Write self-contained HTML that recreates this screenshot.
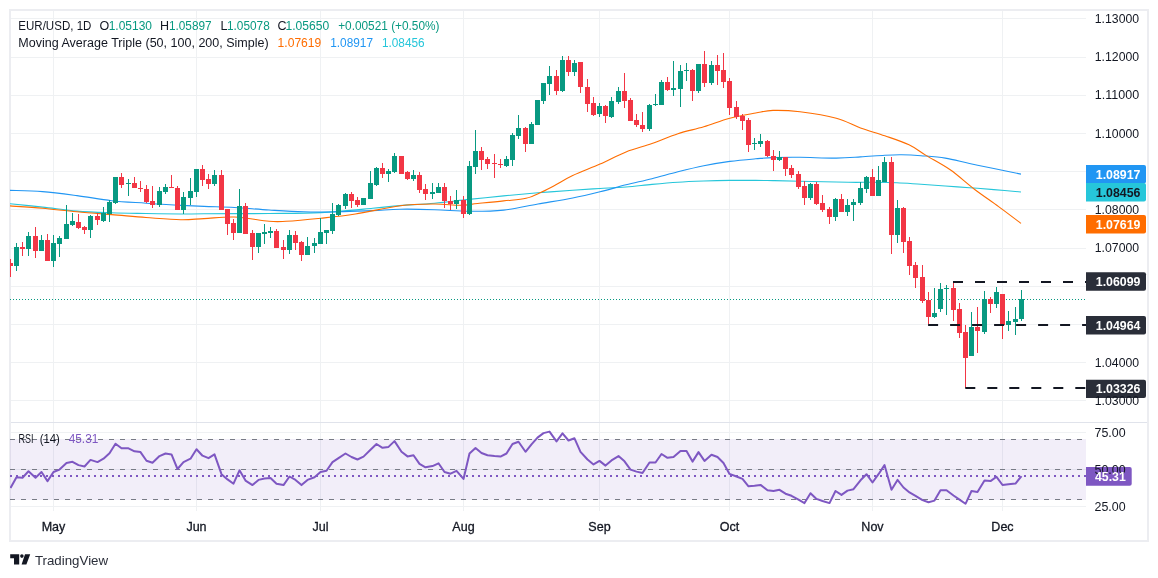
<!DOCTYPE html>
<html><head><meta charset="utf-8"><title>EUR/USD Chart</title>
<style>html,body{margin:0;padding:0;background:#fff;width:1158px;height:578px;overflow:hidden;}text{font-family:"Liberation Sans", sans-serif;}</style>
</head><body>
<svg width="1158" height="578" viewBox="0 0 1158 578" style="display:block;font-family:'Liberation Sans', sans-serif"><defs><clipPath id="mainclip"><rect x="10" y="11" width="1076" height="411"/></clipPath><clipPath id="rsiclip"><rect x="10" y="423" width="1076" height="88"/></clipPath></defs><rect width="1158" height="578" fill="#FFFFFF"/><rect x="10" y="10" width="1138" height="531" fill="none" stroke="#ECEDF1" stroke-width="2"/>
<line x1="11" y1="18.5" x2="1086" y2="18.5" stroke="#EFF1F3" stroke-width="1"/>
<line x1="11" y1="57.5" x2="1086" y2="57.5" stroke="#EFF1F3" stroke-width="1"/>
<line x1="11" y1="95.5" x2="1086" y2="95.5" stroke="#EFF1F3" stroke-width="1"/>
<line x1="11" y1="133.5" x2="1086" y2="133.5" stroke="#EFF1F3" stroke-width="1"/>
<line x1="11" y1="171.5" x2="1086" y2="171.5" stroke="#EFF1F3" stroke-width="1"/>
<line x1="11" y1="209.5" x2="1086" y2="209.5" stroke="#EFF1F3" stroke-width="1"/>
<line x1="11" y1="248.5" x2="1086" y2="248.5" stroke="#EFF1F3" stroke-width="1"/>
<line x1="11" y1="286.5" x2="1086" y2="286.5" stroke="#EFF1F3" stroke-width="1"/>
<line x1="11" y1="324.5" x2="1086" y2="324.5" stroke="#EFF1F3" stroke-width="1"/>
<line x1="11" y1="362.5" x2="1086" y2="362.5" stroke="#EFF1F3" stroke-width="1"/>
<line x1="11" y1="400.5" x2="1086" y2="400.5" stroke="#EFF1F3" stroke-width="1"/>
<line x1="53.5" y1="11" x2="53.5" y2="511" stroke="#EFF1F3" stroke-width="1"/>
<line x1="196.5" y1="11" x2="196.5" y2="511" stroke="#EFF1F3" stroke-width="1"/>
<line x1="320.5" y1="11" x2="320.5" y2="511" stroke="#EFF1F3" stroke-width="1"/>
<line x1="463.5" y1="11" x2="463.5" y2="511" stroke="#EFF1F3" stroke-width="1"/>
<line x1="599.5" y1="11" x2="599.5" y2="511" stroke="#EFF1F3" stroke-width="1"/>
<line x1="729.5" y1="11" x2="729.5" y2="511" stroke="#EFF1F3" stroke-width="1"/>
<line x1="872.5" y1="11" x2="872.5" y2="511" stroke="#EFF1F3" stroke-width="1"/>
<line x1="1002.5" y1="11" x2="1002.5" y2="511" stroke="#EFF1F3" stroke-width="1"/>
<line x1="11" y1="432.5" x2="1086" y2="432.5" stroke="#EFF1F3" stroke-width="1"/>
<line x1="11" y1="469.5" x2="1086" y2="469.5" stroke="#EFF1F3" stroke-width="1"/>
<line x1="11" y1="506.5" x2="1086" y2="506.5" stroke="#EFF1F3" stroke-width="1"/>
<line x1="11" y1="422.5" x2="1147" y2="422.5" stroke="#E0E3EB" stroke-width="1"/>
<line x1="10" y1="299.5" x2="1086" y2="299.5" stroke="#089981" stroke-width="1" stroke-dasharray="1 2"/>
<g clip-path="url(#mainclip)">
<path d="M10.0,203.7 C15.4,204.3 31.3,205.9 42.5,207.1 C53.7,208.3 65.5,210.1 77.0,211.1 C88.5,212.1 100.1,212.4 111.6,212.8 C123.1,213.2 134.5,213.3 146.0,213.5 C157.5,213.7 171.0,213.9 180.7,214.0 C190.4,214.1 189.3,213.9 204.0,213.8 C218.7,213.7 249.5,213.7 269.0,213.5 C288.5,213.3 303.7,213.5 321.0,212.6 C338.3,211.7 359.5,209.5 372.7,208.3 C385.9,207.1 389.7,206.4 400.0,205.6 C410.3,204.8 423.0,204.2 434.5,203.2 C446.0,202.2 457.5,200.6 469.0,199.4 C480.5,198.2 492.1,197.0 503.6,195.9 C515.1,194.8 526.5,193.8 538.0,192.8 C549.5,191.9 562.4,190.9 572.7,190.2 C583.0,189.5 591.1,189.0 600.0,188.5 C608.9,188.0 617.3,187.7 626.0,187.0 C634.7,186.3 643.4,185.2 652.0,184.4 C660.6,183.6 669.3,182.8 677.9,182.2 C686.5,181.6 695.1,181.3 703.8,181.0 C712.4,180.7 721.1,180.5 729.8,180.4 C738.4,180.3 748.5,180.4 755.7,180.4 C762.9,180.4 765.6,180.5 773.0,180.6 C780.4,180.7 787.4,180.9 800.0,181.2 C812.6,181.5 836.3,182.1 848.4,182.3 C860.5,182.5 864.6,182.2 872.7,182.3 C880.8,182.4 888.9,182.5 896.9,182.8 C904.9,183.1 912.9,183.8 921.0,184.3 C929.1,184.8 937.2,185.4 945.3,186.0 C953.4,186.6 961.4,187.1 969.5,187.7 C977.6,188.3 985.2,188.9 993.8,189.6 C1002.4,190.3 1016.5,191.6 1021.0,192.0" fill="none" stroke="#26C6DA" stroke-width="1.1" stroke-linejoin="round"/>
<path d="M10.0,190.4 C15.4,190.6 31.3,190.7 42.5,191.6 C53.7,192.5 65.5,194.1 77.0,195.6 C88.5,197.1 100.1,199.4 111.6,200.7 C123.1,202.0 134.5,202.4 146.0,203.2 C157.5,204.0 171.0,204.9 180.7,205.4 C190.4,205.9 195.0,206.1 204.0,206.4 C213.0,206.8 223.7,206.9 234.5,207.5 C245.3,208.1 257.5,209.3 269.0,210.0 C280.5,210.7 292.1,211.5 303.6,211.8 C315.1,212.1 326.5,212.0 338.0,211.8 C349.5,211.6 362.4,211.0 372.7,210.6 C383.0,210.2 389.7,209.3 400.0,209.2 C410.3,209.0 423.0,209.3 434.5,209.7 C446.0,210.0 457.5,211.2 469.0,211.3 C480.5,211.4 492.1,211.3 503.6,210.1 C515.1,208.9 526.5,206.0 538.0,204.0 C549.5,202.0 562.4,200.0 572.7,198.0 C583.0,196.0 591.1,194.0 600.0,191.8 C608.9,189.6 617.3,187.0 626.0,184.8 C634.7,182.6 643.4,180.9 652.0,178.7 C660.6,176.5 669.3,174.0 677.9,171.8 C686.5,169.6 695.1,167.4 703.8,165.7 C712.4,164.0 721.1,162.6 729.8,161.4 C738.4,160.2 748.5,159.4 755.7,158.8 C762.9,158.2 765.6,157.8 773.0,157.6 C780.4,157.3 789.5,157.2 800.0,157.3 C810.5,157.4 826.2,158.2 836.3,158.1 C846.4,158.0 852.4,157.4 860.5,156.9 C868.6,156.4 877.9,155.6 884.8,155.2 C891.7,154.8 895.7,154.6 901.7,154.7 C907.7,154.8 913.7,155.1 921.0,155.7 C928.3,156.3 937.2,156.8 945.3,158.1 C953.4,159.4 961.4,161.8 969.5,163.5 C977.6,165.2 985.2,166.7 993.8,168.5 C1002.4,170.3 1016.5,173.2 1021.0,174.1" fill="none" stroke="#2196F3" stroke-width="1.1" stroke-linejoin="round"/>
<path d="M10.0,205.9 C15.4,206.3 31.3,207.3 42.5,208.3 C53.7,209.3 65.5,210.8 77.0,211.8 C88.5,212.9 100.1,213.7 111.6,214.6 C123.1,215.5 134.5,216.7 146.0,217.5 C157.5,218.3 171.0,219.5 180.7,219.7 C190.4,219.9 195.0,219.0 204.0,218.6 C213.0,218.2 223.7,216.6 234.5,217.0 C245.3,217.4 260.4,220.6 269.0,221.3 C277.6,222.0 277.3,221.8 286.0,221.3 C294.7,220.8 309.4,219.4 321.0,218.2 C332.6,217.0 342.2,216.1 355.4,214.0 C368.6,211.9 386.8,207.5 400.0,205.8 C413.2,204.1 424.4,204.1 434.5,204.0 C444.6,203.9 453.2,205.4 460.4,205.3 C467.6,205.2 470.5,204.2 477.7,203.5 C484.9,202.8 495.6,201.8 503.6,200.9 C511.7,200.0 519.7,199.8 526.0,198.3 C532.3,196.8 536.7,194.2 541.6,192.0 C546.5,189.8 550.2,187.8 555.4,185.0 C560.6,182.2 565.3,179.0 572.7,175.5 C580.1,172.0 591.1,168.0 600.0,164.1 C608.9,160.2 617.3,155.3 626.0,151.9 C634.7,148.5 643.4,146.6 652.0,143.6 C660.6,140.6 669.3,136.5 677.9,133.7 C686.5,130.9 695.1,129.4 703.8,126.8 C712.4,124.2 721.1,120.5 729.8,118.2 C738.4,115.9 748.5,114.3 755.7,113.0 C762.9,111.7 765.6,110.6 773.0,110.4 C780.4,110.2 789.5,110.5 800.0,111.8 C810.5,113.1 826.2,115.5 836.3,118.2 C846.4,120.9 852.4,125.0 860.5,127.9 C868.6,130.8 876.7,133.0 884.8,135.8 C892.9,138.6 902.1,141.5 909.0,144.8 C915.9,148.1 919.1,151.2 926.0,155.4 C932.9,159.6 942.1,164.2 950.2,169.8 C958.3,175.4 966.3,183.1 974.4,189.2 C982.5,195.3 990.8,200.9 998.6,206.6 C1006.4,212.3 1017.3,220.6 1021.0,223.4" fill="none" stroke="#FF6D00" stroke-width="1.1" stroke-linejoin="round"/>
</g>
<g shape-rendering="crispEdges" clip-path="url(#mainclip)"><rect x="10" y="259" width="1" height="18" fill="#F23645"/><rect x="8" y="263" width="5" height="3" fill="#F23645"/><rect x="16" y="243" width="1" height="28" fill="#089981"/><rect x="14" y="247" width="5" height="19" fill="#089981"/><rect x="22" y="242" width="1" height="14" fill="#F23645"/><rect x="20" y="247" width="5" height="2" fill="#F23645"/><rect x="28" y="232" width="1" height="24" fill="#089981"/><rect x="26" y="236" width="5" height="13" fill="#089981"/><rect x="35" y="227" width="1" height="31" fill="#F23645"/><rect x="33" y="236" width="5" height="15" fill="#F23645"/><rect x="41" y="235" width="1" height="16" fill="#089981"/><rect x="39" y="240" width="5" height="11" fill="#089981"/><rect x="47" y="234" width="1" height="27" fill="#F23645"/><rect x="45" y="240" width="5" height="21" fill="#F23645"/><rect x="53" y="235" width="1" height="32" fill="#089981"/><rect x="51" y="243" width="5" height="18" fill="#089981"/><rect x="59" y="236" width="1" height="21" fill="#089981"/><rect x="57" y="238" width="5" height="6" fill="#089981"/><rect x="66" y="205" width="1" height="34" fill="#089981"/><rect x="64" y="224" width="5" height="15" fill="#089981"/><rect x="72" y="213" width="1" height="13" fill="#089981"/><rect x="70" y="221" width="5" height="4" fill="#089981"/><rect x="78" y="214" width="1" height="15" fill="#F23645"/><rect x="76" y="222" width="5" height="6" fill="#F23645"/><rect x="84" y="226" width="1" height="8" fill="#F23645"/><rect x="82" y="227" width="5" height="3" fill="#F23645"/><rect x="90" y="215" width="1" height="23" fill="#089981"/><rect x="88" y="216" width="5" height="14" fill="#089981"/><rect x="97" y="213" width="1" height="12" fill="#F23645"/><rect x="95" y="216" width="5" height="4" fill="#F23645"/><rect x="103" y="207" width="1" height="15" fill="#089981"/><rect x="101" y="213" width="5" height="8" fill="#089981"/><rect x="109" y="200" width="1" height="22" fill="#089981"/><rect x="107" y="202" width="5" height="12" fill="#089981"/><rect x="115" y="177" width="1" height="27" fill="#089981"/><rect x="113" y="177" width="5" height="26" fill="#089981"/><rect x="121" y="173" width="1" height="15" fill="#F23645"/><rect x="119" y="177" width="5" height="8" fill="#F23645"/><rect x="128" y="179" width="1" height="17" fill="#089981"/><rect x="126" y="183" width="5" height="1" fill="#089981"/><rect x="134" y="177" width="1" height="11" fill="#F23645"/><rect x="132" y="183" width="5" height="5" fill="#F23645"/><rect x="140" y="181" width="1" height="11" fill="#F23645"/><rect x="138" y="188" width="5" height="1" fill="#F23645"/><rect x="146" y="185" width="1" height="18" fill="#F23645"/><rect x="144" y="189" width="5" height="13" fill="#F23645"/><rect x="152" y="186" width="1" height="22" fill="#F23645"/><rect x="150" y="201" width="5" height="4" fill="#F23645"/><rect x="159" y="187" width="1" height="20" fill="#089981"/><rect x="157" y="191" width="5" height="14" fill="#089981"/><rect x="165" y="184" width="1" height="10" fill="#089981"/><rect x="163" y="187" width="5" height="5" fill="#089981"/><rect x="171" y="175" width="1" height="13" fill="#F23645"/><rect x="169" y="187" width="5" height="1" fill="#F23645"/><rect x="177" y="186" width="1" height="24" fill="#F23645"/><rect x="175" y="188" width="5" height="22" fill="#F23645"/><rect x="183" y="192" width="1" height="22" fill="#089981"/><rect x="181" y="197" width="5" height="13" fill="#089981"/><rect x="190" y="178" width="1" height="27" fill="#089981"/><rect x="188" y="191" width="5" height="7" fill="#089981"/><rect x="196" y="169" width="1" height="28" fill="#089981"/><rect x="194" y="169" width="5" height="23" fill="#089981"/><rect x="202" y="165" width="1" height="21" fill="#F23645"/><rect x="200" y="169" width="5" height="11" fill="#F23645"/><rect x="208" y="174" width="1" height="15" fill="#F23645"/><rect x="206" y="179" width="5" height="5" fill="#F23645"/><rect x="214" y="170" width="1" height="16" fill="#089981"/><rect x="212" y="175" width="5" height="9" fill="#089981"/><rect x="221" y="170" width="1" height="40" fill="#F23645"/><rect x="219" y="175" width="5" height="35" fill="#F23645"/><rect x="227" y="209" width="1" height="26" fill="#F23645"/><rect x="225" y="209" width="5" height="15" fill="#F23645"/><rect x="233" y="219" width="1" height="21" fill="#F23645"/><rect x="231" y="223" width="5" height="10" fill="#F23645"/><rect x="239" y="189" width="1" height="44" fill="#089981"/><rect x="237" y="206" width="5" height="27" fill="#089981"/><rect x="245" y="203" width="1" height="31" fill="#F23645"/><rect x="243" y="206" width="5" height="28" fill="#F23645"/><rect x="252" y="230" width="1" height="30" fill="#F23645"/><rect x="250" y="233" width="5" height="14" fill="#F23645"/><rect x="258" y="233" width="1" height="20" fill="#089981"/><rect x="256" y="233" width="5" height="14" fill="#089981"/><rect x="264" y="224" width="1" height="20" fill="#089981"/><rect x="262" y="232" width="5" height="2" fill="#089981"/><rect x="270" y="227" width="1" height="11" fill="#089981"/><rect x="268" y="231" width="5" height="2" fill="#089981"/><rect x="276" y="229" width="1" height="19" fill="#F23645"/><rect x="274" y="231" width="5" height="17" fill="#F23645"/><rect x="283" y="240" width="1" height="19" fill="#F23645"/><rect x="281" y="247" width="5" height="3" fill="#F23645"/><rect x="289" y="230" width="1" height="24" fill="#089981"/><rect x="287" y="235" width="5" height="15" fill="#089981"/><rect x="295" y="231" width="1" height="19" fill="#F23645"/><rect x="293" y="235" width="5" height="8" fill="#F23645"/><rect x="301" y="241" width="1" height="20" fill="#F23645"/><rect x="299" y="242" width="5" height="13" fill="#F23645"/><rect x="307" y="237" width="1" height="18" fill="#089981"/><rect x="305" y="246" width="5" height="9" fill="#089981"/><rect x="314" y="238" width="1" height="15" fill="#089981"/><rect x="312" y="243" width="5" height="3" fill="#089981"/><rect x="320" y="218" width="1" height="26" fill="#089981"/><rect x="318" y="232" width="5" height="12" fill="#089981"/><rect x="326" y="230" width="1" height="14" fill="#089981"/><rect x="324" y="230" width="5" height="3" fill="#089981"/><rect x="332" y="203" width="1" height="31" fill="#089981"/><rect x="330" y="214" width="5" height="17" fill="#089981"/><rect x="338" y="204" width="1" height="12" fill="#089981"/><rect x="336" y="205" width="5" height="10" fill="#089981"/><rect x="345" y="193" width="1" height="16" fill="#089981"/><rect x="343" y="194" width="5" height="12" fill="#089981"/><rect x="351" y="192" width="1" height="16" fill="#F23645"/><rect x="349" y="194" width="5" height="7" fill="#F23645"/><rect x="357" y="197" width="1" height="10" fill="#F23645"/><rect x="355" y="200" width="5" height="5" fill="#F23645"/><rect x="363" y="198" width="1" height="7" fill="#089981"/><rect x="361" y="198" width="5" height="7" fill="#089981"/><rect x="370" y="171" width="1" height="28" fill="#089981"/><rect x="368" y="183" width="5" height="16" fill="#089981"/><rect x="376" y="167" width="1" height="19" fill="#089981"/><rect x="374" y="168" width="5" height="17" fill="#089981"/><rect x="382" y="163" width="1" height="15" fill="#F23645"/><rect x="380" y="168" width="5" height="6" fill="#F23645"/><rect x="388" y="169" width="1" height="13" fill="#089981"/><rect x="386" y="171" width="5" height="3" fill="#089981"/><rect x="394" y="153" width="1" height="20" fill="#089981"/><rect x="392" y="156" width="5" height="16" fill="#089981"/><rect x="401" y="156" width="1" height="18" fill="#F23645"/><rect x="399" y="156" width="5" height="18" fill="#F23645"/><rect x="407" y="171" width="1" height="9" fill="#F23645"/><rect x="405" y="172" width="5" height="7" fill="#F23645"/><rect x="413" y="170" width="1" height="11" fill="#089981"/><rect x="411" y="175" width="5" height="4" fill="#089981"/><rect x="419" y="172" width="1" height="21" fill="#F23645"/><rect x="417" y="175" width="5" height="15" fill="#F23645"/><rect x="425" y="184" width="1" height="16" fill="#F23645"/><rect x="423" y="189" width="5" height="5" fill="#F23645"/><rect x="432" y="183" width="1" height="16" fill="#089981"/><rect x="430" y="192" width="5" height="2" fill="#089981"/><rect x="438" y="183" width="1" height="10" fill="#089981"/><rect x="436" y="187" width="5" height="6" fill="#089981"/><rect x="444" y="183" width="1" height="25" fill="#F23645"/><rect x="442" y="187" width="5" height="14" fill="#F23645"/><rect x="450" y="196" width="1" height="14" fill="#F23645"/><rect x="448" y="201" width="5" height="3" fill="#F23645"/><rect x="456" y="190" width="1" height="19" fill="#089981"/><rect x="454" y="200" width="5" height="4" fill="#089981"/><rect x="463" y="196" width="1" height="22" fill="#F23645"/><rect x="461" y="200" width="5" height="14" fill="#F23645"/><rect x="469" y="161" width="1" height="54" fill="#089981"/><rect x="467" y="166" width="5" height="48" fill="#089981"/><rect x="475" y="130" width="1" height="44" fill="#089981"/><rect x="473" y="151" width="5" height="16" fill="#089981"/><rect x="481" y="147" width="1" height="23" fill="#F23645"/><rect x="479" y="151" width="5" height="9" fill="#F23645"/><rect x="487" y="157" width="1" height="12" fill="#F23645"/><rect x="485" y="159" width="5" height="5" fill="#F23645"/><rect x="494" y="154" width="1" height="24" fill="#F23645"/><rect x="492" y="163" width="5" height="1" fill="#F23645"/><rect x="500" y="159" width="1" height="9" fill="#F23645"/><rect x="498" y="164" width="5" height="1" fill="#F23645"/><rect x="506" y="156" width="1" height="11" fill="#089981"/><rect x="504" y="159" width="5" height="7" fill="#089981"/><rect x="512" y="133" width="1" height="33" fill="#089981"/><rect x="510" y="135" width="5" height="25" fill="#089981"/><rect x="518" y="115" width="1" height="24" fill="#089981"/><rect x="516" y="128" width="5" height="8" fill="#089981"/><rect x="525" y="127" width="1" height="25" fill="#F23645"/><rect x="523" y="128" width="5" height="16" fill="#F23645"/><rect x="531" y="122" width="1" height="22" fill="#089981"/><rect x="529" y="124" width="5" height="20" fill="#089981"/><rect x="537" y="100" width="1" height="25" fill="#089981"/><rect x="535" y="100" width="5" height="25" fill="#089981"/><rect x="543" y="83" width="1" height="21" fill="#089981"/><rect x="541" y="83" width="5" height="18" fill="#089981"/><rect x="549" y="66" width="1" height="29" fill="#089981"/><rect x="547" y="76" width="5" height="8" fill="#089981"/><rect x="556" y="70" width="1" height="25" fill="#F23645"/><rect x="554" y="76" width="5" height="15" fill="#F23645"/><rect x="562" y="56" width="1" height="36" fill="#089981"/><rect x="560" y="60" width="5" height="31" fill="#089981"/><rect x="568" y="56" width="1" height="20" fill="#F23645"/><rect x="566" y="60" width="5" height="12" fill="#F23645"/><rect x="574" y="60" width="1" height="16" fill="#089981"/><rect x="572" y="63" width="5" height="9" fill="#089981"/><rect x="580" y="62" width="1" height="31" fill="#F23645"/><rect x="578" y="62" width="5" height="25" fill="#F23645"/><rect x="587" y="79" width="1" height="33" fill="#F23645"/><rect x="585" y="87" width="5" height="17" fill="#F23645"/><rect x="593" y="97" width="1" height="19" fill="#F23645"/><rect x="591" y="103" width="5" height="12" fill="#F23645"/><rect x="599" y="103" width="1" height="14" fill="#089981"/><rect x="597" y="106" width="5" height="8" fill="#089981"/><rect x="605" y="105" width="1" height="18" fill="#F23645"/><rect x="603" y="106" width="5" height="10" fill="#F23645"/><rect x="611" y="97" width="1" height="21" fill="#089981"/><rect x="609" y="101" width="5" height="16" fill="#089981"/><rect x="618" y="87" width="1" height="17" fill="#089981"/><rect x="616" y="91" width="5" height="11" fill="#089981"/><rect x="624" y="73" width="1" height="35" fill="#F23645"/><rect x="622" y="91" width="5" height="10" fill="#F23645"/><rect x="630" y="98" width="1" height="23" fill="#F23645"/><rect x="628" y="100" width="5" height="21" fill="#F23645"/><rect x="636" y="114" width="1" height="13" fill="#F23645"/><rect x="634" y="120" width="5" height="5" fill="#F23645"/><rect x="642" y="112" width="1" height="20" fill="#F23645"/><rect x="640" y="125" width="5" height="4" fill="#F23645"/><rect x="649" y="104" width="1" height="27" fill="#089981"/><rect x="647" y="105" width="5" height="24" fill="#089981"/><rect x="655" y="94" width="1" height="12" fill="#089981"/><rect x="653" y="104" width="5" height="1" fill="#089981"/><rect x="661" y="80" width="1" height="25" fill="#089981"/><rect x="659" y="82" width="5" height="23" fill="#089981"/><rect x="667" y="77" width="1" height="14" fill="#F23645"/><rect x="665" y="82" width="5" height="8" fill="#F23645"/><rect x="673" y="61" width="1" height="35" fill="#089981"/><rect x="671" y="88" width="5" height="2" fill="#089981"/><rect x="680" y="65" width="1" height="42" fill="#089981"/><rect x="678" y="71" width="5" height="18" fill="#089981"/><rect x="686" y="63" width="1" height="18" fill="#089981"/><rect x="684" y="70" width="5" height="1" fill="#089981"/><rect x="692" y="69" width="1" height="32" fill="#F23645"/><rect x="690" y="70" width="5" height="21" fill="#F23645"/><rect x="698" y="64" width="1" height="29" fill="#089981"/><rect x="696" y="64" width="5" height="27" fill="#089981"/><rect x="704" y="51" width="1" height="36" fill="#F23645"/><rect x="702" y="64" width="5" height="19" fill="#F23645"/><rect x="711" y="61" width="1" height="24" fill="#089981"/><rect x="709" y="65" width="5" height="18" fill="#089981"/><rect x="717" y="55" width="1" height="30" fill="#F23645"/><rect x="715" y="65" width="5" height="6" fill="#F23645"/><rect x="723" y="53" width="1" height="35" fill="#F23645"/><rect x="721" y="70" width="5" height="12" fill="#F23645"/><rect x="729" y="78" width="1" height="37" fill="#F23645"/><rect x="727" y="81" width="5" height="27" fill="#F23645"/><rect x="736" y="101" width="1" height="18" fill="#F23645"/><rect x="734" y="107" width="5" height="10" fill="#F23645"/><rect x="742" y="114" width="1" height="16" fill="#F23645"/><rect x="740" y="116" width="5" height="5" fill="#F23645"/><rect x="748" y="118" width="1" height="34" fill="#F23645"/><rect x="746" y="120" width="5" height="25" fill="#F23645"/><rect x="754" y="138" width="1" height="12" fill="#089981"/><rect x="752" y="143" width="5" height="1" fill="#089981"/><rect x="760" y="134" width="1" height="13" fill="#089981"/><rect x="758" y="141" width="5" height="3" fill="#089981"/><rect x="767" y="140" width="1" height="17" fill="#F23645"/><rect x="765" y="141" width="5" height="15" fill="#F23645"/><rect x="773" y="150" width="1" height="21" fill="#F23645"/><rect x="771" y="156" width="5" height="4" fill="#F23645"/><rect x="779" y="151" width="1" height="10" fill="#089981"/><rect x="777" y="157" width="5" height="3" fill="#089981"/><rect x="785" y="157" width="1" height="19" fill="#F23645"/><rect x="783" y="157" width="5" height="12" fill="#F23645"/><rect x="791" y="165" width="1" height="13" fill="#F23645"/><rect x="789" y="168" width="5" height="7" fill="#F23645"/><rect x="798" y="171" width="1" height="18" fill="#F23645"/><rect x="796" y="174" width="5" height="13" fill="#F23645"/><rect x="804" y="181" width="1" height="24" fill="#F23645"/><rect x="802" y="186" width="5" height="12" fill="#F23645"/><rect x="810" y="183" width="1" height="17" fill="#089981"/><rect x="808" y="184" width="5" height="14" fill="#089981"/><rect x="816" y="182" width="1" height="23" fill="#F23645"/><rect x="814" y="184" width="5" height="20" fill="#F23645"/><rect x="822" y="195" width="1" height="17" fill="#F23645"/><rect x="820" y="203" width="5" height="7" fill="#F23645"/><rect x="829" y="207" width="1" height="17" fill="#F23645"/><rect x="827" y="209" width="5" height="8" fill="#F23645"/><rect x="835" y="198" width="1" height="23" fill="#089981"/><rect x="833" y="199" width="5" height="18" fill="#089981"/><rect x="841" y="194" width="1" height="18" fill="#F23645"/><rect x="839" y="199" width="5" height="13" fill="#F23645"/><rect x="847" y="199" width="1" height="17" fill="#089981"/><rect x="845" y="205" width="5" height="7" fill="#089981"/><rect x="853" y="199" width="1" height="22" fill="#089981"/><rect x="851" y="202" width="5" height="3" fill="#089981"/><rect x="860" y="182" width="1" height="23" fill="#089981"/><rect x="858" y="188" width="5" height="15" fill="#089981"/><rect x="866" y="176" width="1" height="17" fill="#089981"/><rect x="864" y="177" width="5" height="12" fill="#089981"/><rect x="872" y="169" width="1" height="27" fill="#F23645"/><rect x="870" y="177" width="5" height="19" fill="#F23645"/><rect x="878" y="166" width="1" height="30" fill="#089981"/><rect x="876" y="180" width="5" height="16" fill="#089981"/><rect x="884" y="157" width="1" height="25" fill="#089981"/><rect x="882" y="162" width="5" height="20" fill="#089981"/><rect x="891" y="157" width="1" height="97" fill="#F23645"/><rect x="889" y="162" width="5" height="73" fill="#F23645"/><rect x="897" y="200" width="1" height="43" fill="#089981"/><rect x="895" y="208" width="5" height="27" fill="#089981"/><rect x="903" y="207" width="1" height="46" fill="#F23645"/><rect x="901" y="208" width="5" height="34" fill="#F23645"/><rect x="909" y="237" width="1" height="38" fill="#F23645"/><rect x="907" y="241" width="5" height="25" fill="#F23645"/><rect x="915" y="262" width="1" height="26" fill="#F23645"/><rect x="913" y="265" width="5" height="13" fill="#F23645"/><rect x="922" y="265" width="1" height="38" fill="#F23645"/><rect x="920" y="277" width="5" height="24" fill="#F23645"/><rect x="928" y="292" width="1" height="32" fill="#F23645"/><rect x="926" y="300" width="5" height="17" fill="#F23645"/><rect x="934" y="288" width="1" height="30" fill="#089981"/><rect x="932" y="313" width="5" height="4" fill="#089981"/><rect x="940" y="283" width="1" height="29" fill="#089981"/><rect x="938" y="289" width="5" height="20" fill="#089981"/><rect x="946" y="285" width="1" height="30" fill="#089981"/><rect x="944" y="288" width="5" height="1" fill="#089981"/><rect x="953" y="282" width="1" height="39" fill="#F23645"/><rect x="951" y="288" width="5" height="22" fill="#F23645"/><rect x="959" y="303" width="1" height="35" fill="#F23645"/><rect x="957" y="309" width="5" height="24" fill="#F23645"/><rect x="965" y="325" width="1" height="63" fill="#F23645"/><rect x="963" y="332" width="5" height="26" fill="#F23645"/><rect x="971" y="312" width="1" height="44" fill="#089981"/><rect x="969" y="327" width="5" height="29" fill="#089981"/><rect x="977" y="307" width="1" height="46" fill="#F23645"/><rect x="975" y="327" width="5" height="4" fill="#F23645"/><rect x="984" y="291" width="1" height="43" fill="#089981"/><rect x="982" y="299" width="5" height="33" fill="#089981"/><rect x="990" y="297" width="1" height="16" fill="#F23645"/><rect x="988" y="299" width="5" height="5" fill="#F23645"/><rect x="996" y="287" width="1" height="21" fill="#089981"/><rect x="994" y="292" width="5" height="12" fill="#089981"/><rect x="1002" y="294" width="1" height="45" fill="#F23645"/><rect x="1000" y="294" width="5" height="31" fill="#F23645"/><rect x="1008" y="311" width="1" height="20" fill="#089981"/><rect x="1006" y="321" width="5" height="4" fill="#089981"/><rect x="1015" y="307" width="1" height="28" fill="#089981"/><rect x="1013" y="319" width="5" height="3" fill="#089981"/><rect x="1021" y="290" width="1" height="31" fill="#089981"/><rect x="1019" y="299" width="5" height="20" fill="#089981"/></g>
<line x1="953" y1="282" x2="1086" y2="282" stroke="#131722" stroke-width="2" stroke-dasharray="10 12"/>
<line x1="928.1" y1="325" x2="1086" y2="325" stroke="#131722" stroke-width="2" stroke-dasharray="10 12"/>
<line x1="965.3" y1="388" x2="1086" y2="388" stroke="#131722" stroke-width="2" stroke-dasharray="10 12"/>
<rect x="10" y="439" width="1076" height="61" fill="#7E57C2" fill-opacity="0.1"/>
<line x1="10" y1="439.5" x2="1086" y2="439.5" stroke="#787B86" stroke-width="1" stroke-dasharray="5 6"/>
<line x1="10" y1="469.5" x2="1086" y2="469.5" stroke="#787B86" stroke-width="1" stroke-dasharray="5 6"/>
<line x1="10" y1="499.5" x2="1086" y2="499.5" stroke="#787B86" stroke-width="1" stroke-dasharray="5 6"/>
<line x1="10" y1="476.0" x2="1086" y2="476.0" stroke="#7E57C2" stroke-width="2" stroke-dasharray="2 4"/>
<g clip-path="url(#rsiclip)"><polyline points="10.5,488.0 16.5,477.3 22.5,477.7 28.5,471.3 35.5,477.7 41.5,472.0 47.5,481.1 53.5,472.0 59.5,469.6 66.5,463.0 72.5,461.8 78.5,465.1 84.5,466.5 90.5,459.9 97.5,462.1 103.5,458.7 109.5,453.2 115.5,443.7 121.5,448.3 128.5,448.3 134.5,451.3 140.5,452.1 146.5,460.8 152.5,462.7 159.5,456.1 165.5,453.5 171.5,454.4 177.5,469.0 183.5,462.1 190.5,458.7 196.5,449.2 202.5,455.7 208.5,458.2 214.5,454.4 221.5,474.2 227.5,479.4 233.5,483.7 239.5,470.3 245.5,480.6 252.5,485.1 258.5,479.9 264.5,478.5 270.5,478.0 276.5,483.7 283.5,485.1 289.5,476.5 295.5,479.9 301.5,485.1 307.5,479.9 314.5,477.3 320.5,472.0 326.5,470.8 332.5,462.1 338.5,458.2 345.5,453.5 351.5,457.0 357.5,459.5 363.5,456.6 370.5,449.7 376.5,444.0 382.5,447.8 388.5,446.9 394.5,441.1 401.5,451.8 407.5,456.4 413.5,455.2 419.5,463.9 425.5,467.3 432.5,466.1 438.5,463.3 444.5,472.0 450.5,473.7 456.5,470.8 463.5,478.9 469.5,453.5 475.5,448.0 481.5,453.0 487.5,455.2 494.5,456.1 500.5,456.6 506.5,453.5 512.5,444.0 518.5,441.8 525.5,451.8 531.5,444.3 537.5,437.6 543.5,433.1 549.5,431.6 556.5,441.4 562.5,433.3 568.5,440.5 574.5,438.3 580.5,451.8 587.5,459.5 593.5,464.4 599.5,460.9 605.5,465.6 611.5,460.4 618.5,456.1 624.5,461.3 630.5,469.6 636.5,471.6 642.5,473.0 649.5,462.5 655.5,462.5 661.5,454.0 667.5,457.8 673.5,457.0 680.5,450.9 686.5,450.9 692.5,461.6 698.5,452.1 704.5,460.9 711.5,454.7 717.5,457.0 723.5,463.0 729.5,473.9 736.5,476.5 742.5,478.9 748.5,486.3 754.5,485.8 760.5,484.9 767.5,490.3 773.5,491.1 779.5,489.8 785.5,493.7 791.5,495.8 798.5,499.6 804.5,503.1 810.5,493.2 816.5,498.9 822.5,501.0 829.5,503.1 835.5,491.0 841.5,494.9 847.5,490.6 853.5,489.2 860.5,480.3 866.5,474.2 872.5,482.5 878.5,474.2 884.5,465.1 891.5,489.8 897.5,479.9 903.5,487.5 909.5,492.4 915.5,495.8 922.5,500.1 928.5,502.2 934.5,500.6 940.5,490.3 946.5,490.3 953.5,495.5 959.5,499.6 965.5,503.8 971.5,491.0 977.5,492.0 984.5,480.4 990.5,481.1 996.5,476.8 1002.5,485.0 1008.5,484.2 1015.5,483.6 1021.5,476.1" fill="none" stroke="#7E57C2" stroke-width="2" stroke-linejoin="round"/></g>
<path d="M1086,165.1 H1144 Q1146,165.1 1146,167.1 V181.6 Q1146,183.6 1144,183.6 H1086 Z" fill="#2196F3"/>
<path d="M1086,183.0 H1144 Q1146,183.0 1146,185.0 V199.6 Q1146,201.6 1144,201.6 H1086 Z" fill="#26C6DA"/>
<path d="M1086,214.9 H1144 Q1146,214.9 1146,216.9 V231.6 Q1146,233.6 1144,233.6 H1086 Z" fill="#FF6D00"/>
<path d="M1086,272.2 H1144 Q1146,272.2 1146,274.2 V288.7 Q1146,290.7 1144,290.7 H1086 Z" fill="#2A2E39"/>
<path d="M1086,316.0 H1144 Q1146,316.0 1146,318.0 V332.4 Q1146,334.4 1144,334.4 H1086 Z" fill="#2A2E39"/>
<path d="M1086,379.7 H1144 Q1146,379.7 1146,381.7 V396.0 Q1146,398.0 1144,398.0 H1086 Z" fill="#2A2E39"/>
<path d="M1086,467.1 H1129.7 Q1131.7,467.1 1131.7,469.1 V483.8 Q1131.7,485.8 1129.7,485.8 H1086 Z" fill="#7E57C2"/>
<g fill="#131722"><path d="M10.2,554.2 H19.2 V564.5 H14 V558.3 H10.2 Z"/><circle cx="21.9" cy="556.1" r="1.8"/><path d="M25,554.2 H30.2 L26.4,564.5 H21.6 Z"/></g><g style="filter:contrast(1)"><text x="1094.8" y="22.8" font-size="12" fill="#131722" font-weight="normal" text-anchor="start" textLength="44.3" lengthAdjust="spacingAndGlyphs">1.13000</text>
<text x="1094.8" y="61.0" font-size="12" fill="#131722" font-weight="normal" text-anchor="start" textLength="44.3" lengthAdjust="spacingAndGlyphs">1.12000</text>
<text x="1094.8" y="99.2" font-size="12" fill="#131722" font-weight="normal" text-anchor="start" textLength="44.3" lengthAdjust="spacingAndGlyphs">1.11000</text>
<text x="1094.8" y="137.5" font-size="12" fill="#131722" font-weight="normal" text-anchor="start" textLength="44.3" lengthAdjust="spacingAndGlyphs">1.10000</text>
<text x="1094.8" y="213.9" font-size="12" fill="#131722" font-weight="normal" text-anchor="start" textLength="44.3" lengthAdjust="spacingAndGlyphs">1.08000</text>
<text x="1094.8" y="252.1" font-size="12" fill="#131722" font-weight="normal" text-anchor="start" textLength="44.3" lengthAdjust="spacingAndGlyphs">1.07000</text>
<text x="1094.8" y="366.8" font-size="12" fill="#131722" font-weight="normal" text-anchor="start" textLength="44.3" lengthAdjust="spacingAndGlyphs">1.04000</text>
<text x="1094.8" y="405.0" font-size="12" fill="#131722" font-weight="normal" text-anchor="start" textLength="44.3" lengthAdjust="spacingAndGlyphs">1.03000</text>
<text x="1095.8" y="178.8" font-size="12" fill="#FFFFFF" font-weight="bold" text-anchor="start" textLength="44.7" lengthAdjust="spacingAndGlyphs">1.08917</text>
<text x="1095.8" y="196.8" font-size="12" fill="#131722" font-weight="bold" text-anchor="start" textLength="44.7" lengthAdjust="spacingAndGlyphs">1.08456</text>
<text x="1095.8" y="228.8" font-size="12" fill="#FFFFFF" font-weight="bold" text-anchor="start" textLength="44.7" lengthAdjust="spacingAndGlyphs">1.07619</text>
<text x="1095.8" y="285.9" font-size="12" fill="#FFFFFF" font-weight="bold" text-anchor="start" textLength="44.7" lengthAdjust="spacingAndGlyphs">1.06099</text>
<text x="1095.8" y="329.7" font-size="12" fill="#FFFFFF" font-weight="bold" text-anchor="start" textLength="44.7" lengthAdjust="spacingAndGlyphs">1.04964</text>
<text x="1095.8" y="393.4" font-size="12" fill="#FFFFFF" font-weight="bold" text-anchor="start" textLength="44.7" lengthAdjust="spacingAndGlyphs">1.03326</text>
<text x="1094.5" y="436.8" font-size="12" fill="#131722" font-weight="normal" text-anchor="start" textLength="31.1" lengthAdjust="spacingAndGlyphs">75.00</text>
<text x="1094.5" y="473.6" font-size="12" fill="#131722" font-weight="normal" text-anchor="start" textLength="31.1" lengthAdjust="spacingAndGlyphs">50.00</text>
<text x="1094.5" y="510.7" font-size="12" fill="#131722" font-weight="normal" text-anchor="start" textLength="31.1" lengthAdjust="spacingAndGlyphs">25.00</text>
<text x="1095" y="480.6" font-size="12" fill="#FFFFFF" font-weight="bold" text-anchor="start" textLength="30.7" lengthAdjust="spacingAndGlyphs">45.31</text>
<text x="53.5" y="530.9" font-size="13" fill="#131722" font-weight="normal" text-anchor="middle" textLength="23.7" lengthAdjust="spacingAndGlyphs" stroke="#131722" stroke-width="0.3">May</text>
<text x="196.5" y="530.9" font-size="13" fill="#131722" font-weight="normal" text-anchor="middle" textLength="20.2" lengthAdjust="spacingAndGlyphs" stroke="#131722" stroke-width="0.3">Jun</text>
<text x="320.5" y="530.9" font-size="13" fill="#131722" font-weight="normal" text-anchor="middle" textLength="16.0" lengthAdjust="spacingAndGlyphs" stroke="#131722" stroke-width="0.3">Jul</text>
<text x="463.5" y="530.9" font-size="13" fill="#131722" font-weight="normal" text-anchor="middle" textLength="22.3" lengthAdjust="spacingAndGlyphs" stroke="#131722" stroke-width="0.3">Aug</text>
<text x="599.5" y="530.9" font-size="13" fill="#131722" font-weight="normal" text-anchor="middle" textLength="22.3" lengthAdjust="spacingAndGlyphs" stroke="#131722" stroke-width="0.3">Sep</text>
<text x="729.5" y="530.9" font-size="13" fill="#131722" font-weight="normal" text-anchor="middle" textLength="19.5" lengthAdjust="spacingAndGlyphs" stroke="#131722" stroke-width="0.3">Oct</text>
<text x="872.5" y="530.9" font-size="13" fill="#131722" font-weight="normal" text-anchor="middle" textLength="22.3" lengthAdjust="spacingAndGlyphs" stroke="#131722" stroke-width="0.3">Nov</text>
<text x="1002.5" y="530.9" font-size="13" fill="#131722" font-weight="normal" text-anchor="middle" textLength="22.3" lengthAdjust="spacingAndGlyphs" stroke="#131722" stroke-width="0.3">Dec</text>
<text x="18.3" y="30.3" font-size="12.5" fill="#131722" font-weight="normal" text-anchor="start" textLength="73.1" lengthAdjust="spacingAndGlyphs">EUR/USD, 1D</text>
<text x="99.4" y="30.3" font-size="12.5" fill="#131722" font-weight="normal" text-anchor="start">O</text>
<text x="108.7" y="30.3" font-size="12.5" fill="#089981" font-weight="normal" text-anchor="start" textLength="43.3" lengthAdjust="spacingAndGlyphs">1.05130</text>
<text x="160.0" y="30.3" font-size="12.5" fill="#131722" font-weight="normal" text-anchor="start">H</text>
<text x="168.9" y="30.3" font-size="12.5" fill="#089981" font-weight="normal" text-anchor="start" textLength="42.7" lengthAdjust="spacingAndGlyphs">1.05897</text>
<text x="220.5" y="30.3" font-size="12.5" fill="#131722" font-weight="normal" text-anchor="start">L</text>
<text x="227.0" y="30.3" font-size="12.5" fill="#089981" font-weight="normal" text-anchor="start" textLength="42.7" lengthAdjust="spacingAndGlyphs">1.05078</text>
<text x="277.6" y="30.3" font-size="12.5" fill="#131722" font-weight="normal" text-anchor="start">C</text>
<text x="285.5" y="30.3" font-size="12.5" fill="#089981" font-weight="normal" text-anchor="start" textLength="43.7" lengthAdjust="spacingAndGlyphs">1.05650</text>
<text x="338.2" y="30.3" font-size="12.5" fill="#089981" font-weight="normal" text-anchor="start" textLength="101.3" lengthAdjust="spacingAndGlyphs">+0.00521 (+0.50%)</text>
<text x="18.3" y="47.4" font-size="12.5" fill="#131722" font-weight="normal" text-anchor="start" textLength="250.4" lengthAdjust="spacingAndGlyphs">Moving Average Triple (50, 100, 200, Simple)</text>
<text x="277.6" y="47.4" font-size="12.5" fill="#FF6D00" font-weight="normal" text-anchor="start" textLength="43.7" lengthAdjust="spacingAndGlyphs">1.07619</text>
<text x="330.2" y="47.4" font-size="12.5" fill="#2196F3" font-weight="normal" text-anchor="start" textLength="42.8" lengthAdjust="spacingAndGlyphs">1.08917</text>
<text x="381.9" y="47.4" font-size="12.5" fill="#26C6DA" font-weight="normal" text-anchor="start" textLength="42.7" lengthAdjust="spacingAndGlyphs">1.08456</text>
<text x="18.4" y="442.7" font-size="12" fill="#131722" font-weight="normal" text-anchor="start" textLength="15.0" lengthAdjust="spacingAndGlyphs">RSI</text>
<text x="39.7" y="442.7" font-size="12" fill="#131722" font-weight="normal" text-anchor="start" textLength="20.2" lengthAdjust="spacingAndGlyphs">(14)</text>
<text x="68.7" y="442.7" font-size="12" fill="#7E57C2" font-weight="normal" text-anchor="start" textLength="29.6" lengthAdjust="spacingAndGlyphs">45.31</text>
<text x="34.9" y="564.8" font-size="13.5" fill="#2A2E39" font-weight="normal" text-anchor="start" textLength="73.2" lengthAdjust="spacingAndGlyphs">TradingView</text></g></svg>
</body></html>
